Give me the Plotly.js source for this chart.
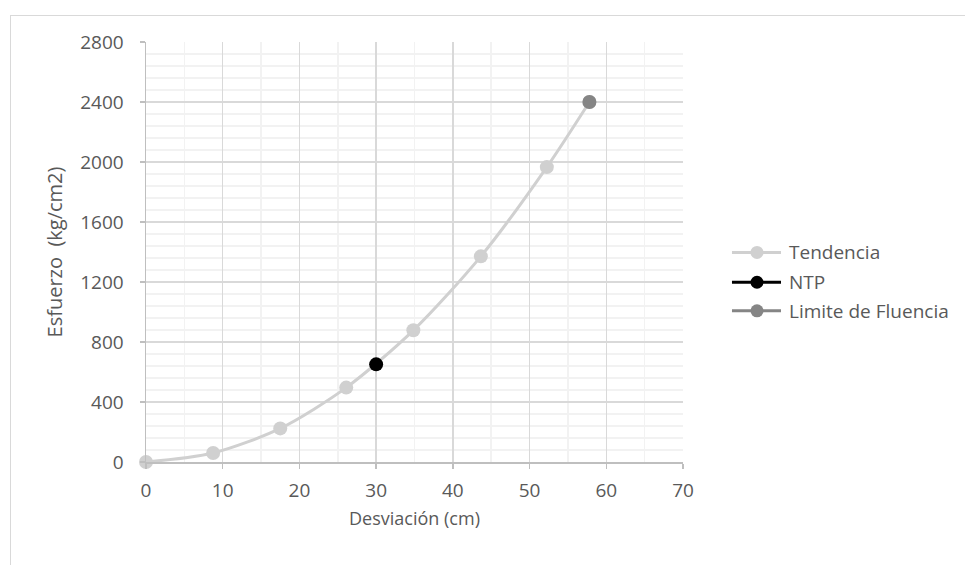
<!DOCTYPE html>
<html>
<head>
<meta charset="utf-8">
<script src="https://cdn.plot.ly/plotly-3.0.1.min.js"></script>
<style>
  html, body { margin: 0; padding: 0; background: #ffffff; }
  #wrap { position: relative; width: 965px; height: 565px; overflow: hidden; }
  #chart { position: absolute; left: 0; top: 0; width: 965px; height: 565px; }
  #frame { position: absolute; left: 10px; top: 15px; width: 1000px; height: 600px;
           border: 1px solid #d9d9d9; pointer-events: none; box-sizing: border-box; }
</style>
</head>
<body>
<div id="wrap">
  <div id="chart"></div>
  <div id="frame"></div>
</div>
<script>
// Deflection (cm) vs. stress (kg/cm2)
const tendenciaX = [0, 8.75, 17.5, 26.1, 34.85, 43.65, 52.25, 57.8];
const tendenciaY = [0, 60, 224, 496, 878, 1371, 1966, 2400];

const ntpX = [30];
const ntpY = [651];

const limiteX = [57.8];
const limiteY = [2400];

const xTicks = [0, 10, 20, 30, 40, 50, 60, 70];
const yTicks = [0, 400, 800, 1200, 1600, 2000, 2400, 2800];

const seriesNames = ['Tendencia', 'NTP', 'Limite de Fluencia'];
const seriesColors = ['#d0d0d0', '#000000', '#858585'];

const FONT = 'Open Sans, Calibri, sans-serif';
const TXT = '#595959';

const xs = [tendenciaX, ntpX, limiteX];
const ys = [tendenciaY, ntpY, limiteY];

const traces = seriesNames.map((name, i) => ({
  name: name, x: xs[i], y: ys[i], type: 'scatter', mode: 'lines+markers',
  line: { color: seriesColors[i], width: 3, shape: 'spline', smoothing: 0.8 },
  marker: { color: seriesColors[i], size: 14 },
  cliponaxis: false,
  showlegend: false
}));

// Legend on the right: a short line with a centred marker, then the name
const legendShapes = [];
const legendNotes = [];
const legX0 = 1.0912, legX1 = 1.1825, legXm = 1.1378, legText = 1.1937;
const legY = [0.499, 0.428, 0.360];
seriesNames.forEach((name, i) => {
  legendShapes.push({
    type: 'line', xref: 'paper', yref: 'paper',
    x0: legX0, x1: legX1, y0: legY[i], y1: legY[i],
    line: { color: seriesColors[i], width: 3 }
  });
  legendShapes.push({
    type: 'circle', xref: 'paper', yref: 'paper',
    xsizemode: 'pixel', ysizemode: 'pixel',
    xanchor: legXm, yanchor: legY[i],
    x0: -6.5, x1: 6.5, y0: -6.5, y1: 6.5,
    fillcolor: seriesColors[i], line: { width: 0 }
  });
  legendNotes.push({
    xref: 'paper', yref: 'paper', x: legText, y: legY[i],
    xanchor: 'left', yanchor: 'middle', showarrow: false,
    text: name, font: { family: FONT, size: 19, color: TXT }
  });
});

const layout = {
  width: 965, height: 565,
  margin: { l: 146, r: 282, t: 42, b: 103, pad: 0 },
  paper_bgcolor: 'rgba(0,0,0,0)',
  plot_bgcolor: '#ffffff',
  font: { family: FONT, size: 19, color: TXT },
  showlegend: false,
  shapes: legendShapes,
  annotations: legendNotes,
  xaxis: {
    range: [0, 70], tickvals: xTicks, ticktext: xTicks.map(String),
    showgrid: true, gridcolor: '#d9d9d9', gridwidth: 1.5,
    minor: { dtick: 5, showgrid: true, gridcolor: '#f2f2f2', gridwidth: 1.5 },
    showline: true, linecolor: '#bfbfbf', linewidth: 1.5,
    ticks: 'outside', ticklen: 5, tickcolor: '#bfbfbf', tickwidth: 1.5,
    zeroline: false, ticklabelstandoff: 6,
    tickfont: { family: FONT, size: 19, color: TXT },
    title: { text: 'Desviación (cm)', font: { family: FONT, size: 18, color: TXT }, standoff: 10 }
  },
  yaxis: {
    range: [0, 2800], tickvals: yTicks, ticktext: yTicks.map(String),
    showgrid: true, gridcolor: '#d9d9d9', gridwidth: 1.5,
    minor: { dtick: 80, showgrid: true, gridcolor: '#f2f2f2', gridwidth: 1.5 },
    showline: true, linecolor: '#bfbfbf', linewidth: 1.5,
    ticks: 'outside', ticklen: 5, tickcolor: '#bfbfbf', tickwidth: 1.5,
    zeroline: false, ticklabelstandoff: 12,
    tickfont: { family: FONT, size: 19, color: TXT },
    title: { text: 'Esfuerzo&nbsp; (kg/cm2)', font: { family: FONT, size: 20, color: TXT }, standoff: 12 }
  }
};

Plotly.newPlot('chart', traces, layout, { displayModeBar: false, staticPlot: true });
</script>
</body>
</html>
